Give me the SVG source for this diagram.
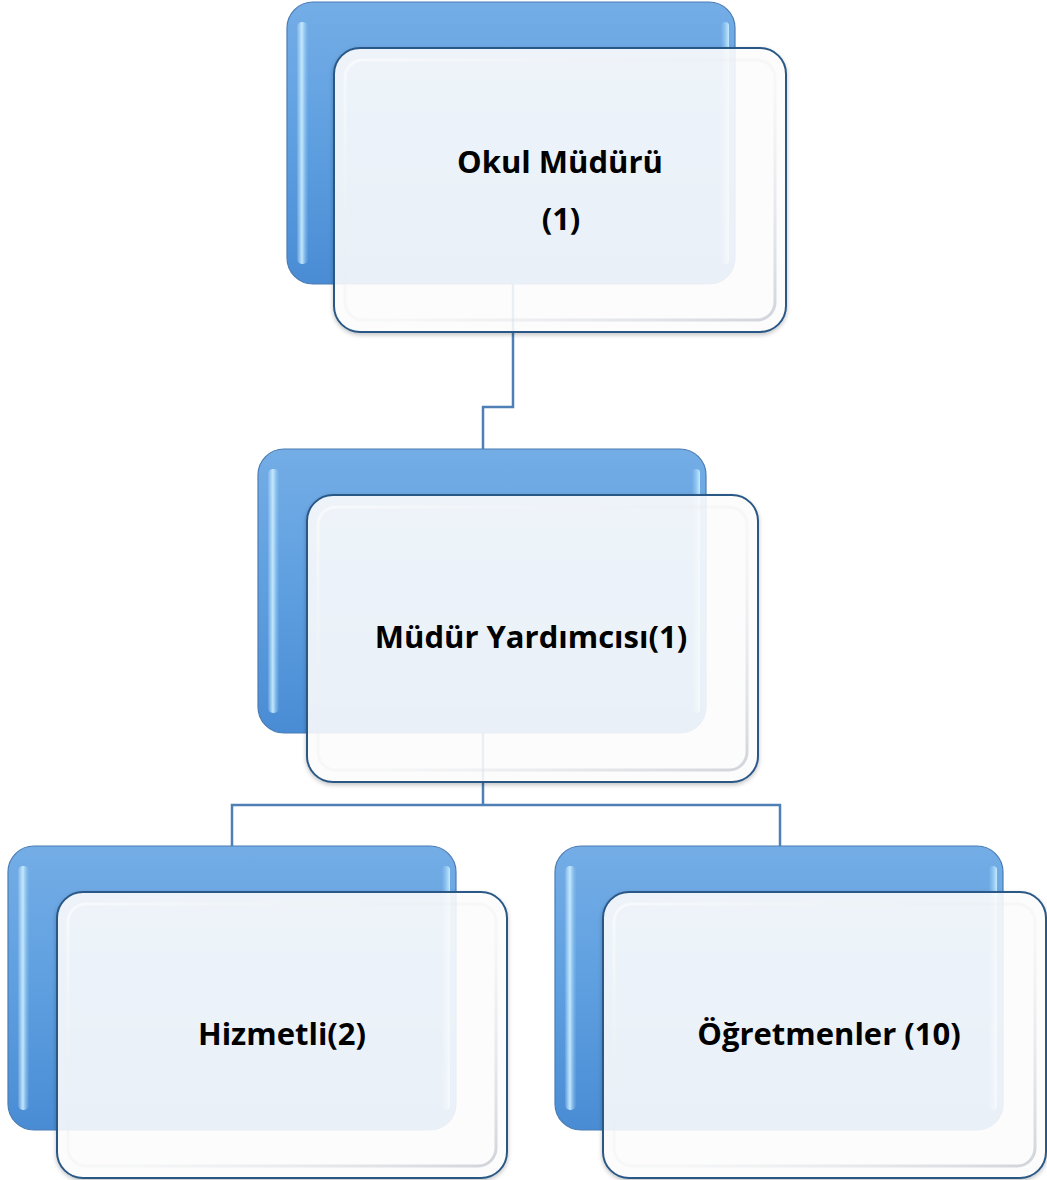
<svg xmlns="http://www.w3.org/2000/svg" width="1047" height="1180" viewBox="0 0 1047 1180">
<defs>
<linearGradient id="gBack" x1="0" y1="0" x2="0" y2="1">
<stop offset="0" stop-color="#74ade6"/>
<stop offset="0.5" stop-color="#5e9fe0"/>
<stop offset="1" stop-color="#4a8cd4"/>
</linearGradient>
<linearGradient id="gHiL" x1="0" y1="0" x2="1" y2="0">
<stop offset="0" stop-color="#d6f0ff" stop-opacity="0.1"/>
<stop offset="0.45" stop-color="#c8ecff" stop-opacity="0.95"/>
<stop offset="1" stop-color="#8cc4f0" stop-opacity="0.1"/>
</linearGradient>
<linearGradient id="gHiR" x1="0" y1="0" x2="1" y2="0">
<stop offset="0" stop-color="#9fd3f8" stop-opacity="0.05"/>
<stop offset="1" stop-color="#c8f0ff" stop-opacity="0.95"/>
</linearGradient>
<linearGradient id="gInner" x1="0" y1="0" x2="1" y2="1">
<stop offset="0" stop-color="#ffffff" stop-opacity="0.6"/>
<stop offset="0.55" stop-color="#e6e8ec" stop-opacity="0.25"/>
<stop offset="1" stop-color="#c9ced5" stop-opacity="0.85"/>
</linearGradient>
<filter id="sh" x="-5%" y="-5%" width="110%" height="115%">
<feDropShadow dx="0" dy="2" stdDeviation="2" flood-color="#000" flood-opacity="0.25"/>
</filter>
</defs>
<style>
.back{fill:url(#gBack);stroke:#4b7db3;stroke-width:1.2}
.hil{fill:url(#gHiL)}
.hir{fill:url(#gHiR)}
.front{fill:#ffffff;fill-opacity:0.87;stroke:#2b5886;stroke-width:2}
.inner{fill:none;stroke:url(#gInner);stroke-width:3}
.conn{fill:none;stroke:#4f80b5;stroke-width:2.5}
.lbl{font-family:"Open Sans","Noto Sans","Liberation Sans",sans-serif;font-weight:bold;font-size:31px;fill:#000;text-anchor:middle}
</style>

<g id="connectors">
<path class="conn" d="M513,270 V407 H483 V449"/>
<path class="conn" d="M483,720 V805 M232,846 V805 H780 V846"/>
</g>

<g id="node-okul-muduru">
<rect class="back" x="287" y="2" width="448" height="282" rx="26"/>
<rect class="hil" x="297" y="22" width="11" height="242" rx="5"/>
<rect class="hir" x="721" y="22" width="8" height="242" rx="4"/>
<rect class="front" x="334" y="48" width="452" height="284" rx="26" filter="url(#sh)"/>
<rect class="inner" x="345" y="60" width="430" height="260" rx="18"/>
<text class="lbl" x="560" y="173">Okul Müdürü</text>
<text class="lbl" x="561" y="230">(1)</text>
</g>

<g id="node-mudur-yardimcisi">
<rect class="back" x="258" y="449" width="448" height="284" rx="26"/>
<rect class="hil" x="268" y="469" width="11" height="244" rx="5"/>
<rect class="hir" x="692" y="469" width="8" height="244" rx="4"/>
<rect class="front" x="307" y="495" width="451" height="287" rx="26" filter="url(#sh)"/>
<rect class="inner" x="318" y="507" width="429" height="263" rx="18"/>
<text class="lbl" x="531" y="648">Müdür Yardımcısı(1)</text>
</g>

<g id="node-hizmetli">
<rect class="back" x="8" y="846" width="448" height="284" rx="26"/>
<rect class="hil" x="18" y="866" width="11" height="244" rx="5"/>
<rect class="hir" x="442" y="866" width="8" height="244" rx="4"/>
<rect class="front" x="57" y="892" width="450" height="286" rx="26" filter="url(#sh)"/>
<rect class="inner" x="68" y="904" width="428" height="262" rx="18"/>
<text class="lbl" x="282" y="1045">Hizmetli(2)</text>
</g>

<g id="node-ogretmenler">
<rect class="back" x="555" y="846" width="448" height="284" rx="26"/>
<rect class="hil" x="565" y="866" width="11" height="244" rx="5"/>
<rect class="hir" x="989" y="866" width="8" height="244" rx="4"/>
<rect class="front" x="603" y="892" width="443" height="286" rx="26" filter="url(#sh)"/>
<rect class="inner" x="614" y="904" width="421" height="262" rx="18"/>
<text class="lbl" x="829" y="1045">Öğretmenler (10)</text>
</g>
</svg>
